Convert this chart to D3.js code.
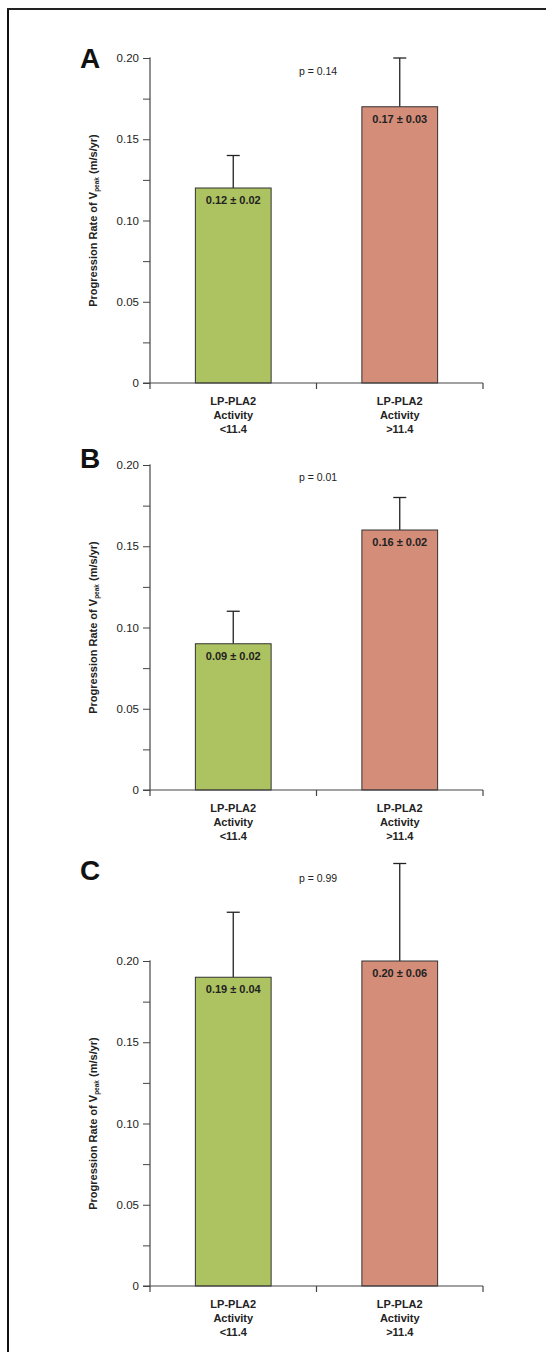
<!DOCTYPE html>
<html>
<head>
<meta charset="utf-8">
<script src="https://cdn.jsdelivr.net/npm/d3@7/dist/d3.min.js"></script>
<style>
  html, body { margin: 0; padding: 0; background: #fff; }
  svg { display: block; font-family: Arial, "Liberation Sans", Helvetica, sans-serif; }
</style>
</head>
<body>
<svg id="chart" width="546" height="1352"></svg>
<script>
// ---- Data ----
const panelLetters = ["A", "B", "C"];
const categories = [["LP-PLA2", "Activity", "<11.4"], ["LP-PLA2", "Activity", ">11.4"]];
const meanValues = [[0.12, 0.17], [0.09, 0.16], [0.19, 0.20]];
const errorValues = [[0.02, 0.03], [0.02, 0.02], [0.04, 0.06]];
const barLabels = [["0.12 ± 0.02", "0.17 ± 0.03"], ["0.09 ± 0.02", "0.16 ± 0.02"], ["0.19 ± 0.04", "0.20 ± 0.06"]];
const pValues = ["p = 0.14", "p = 0.01", "p = 0.99"];
const majorTicks = [0, 0.05, 0.10, 0.15, 0.20];
const allTicks = [0, 0.025, 0.05, 0.075, 0.10, 0.125, 0.15, 0.175, 0.20];

// ---- Layout ----
const zeroY = [383, 790, 1286];
const axisHeight = 325;
const letterY = [68, 468, 880];
const pY = [75, 481, 882];
const xLeft = 150, xRight = 483;
const barColors = ["#adc260", "#d38d78"];

const svg = d3.select("#chart");

// outer frame (left and top edges)
svg.append("line").attr("x1", 8).attr("x2", 8).attr("y1", 8).attr("y2", 1352)
  .attr("stroke", "#111").attr("stroke-width", 2);
svg.append("line").attr("x1", 7).attr("x2", 546).attr("y1", 9).attr("y2", 9)
  .attr("stroke", "#222").attr("stroke-width", 2);

const x = d3.scaleBand().domain([0, 1]).range([xLeft, xRight]).paddingInner(0.545).paddingOuter(0.2725);

panelLetters.forEach((letter, i) => {
  const y0 = zeroY[i];
  const y = d3.scaleLinear().domain([0, 0.20]).range([y0, y0 - axisHeight]);
  const g = svg.append("g");

  const data = meanValues[i].map((m, j) => ({ j, m, e: errorValues[i][j], label: barLabels[i][j] }));

  // error bars
  data.forEach(d => {
    const cx = x(d.j) + x.bandwidth() / 2;
    g.append("line").attr("x1", cx).attr("x2", cx)
      .attr("y1", y(d.m)).attr("y2", y(d.m + d.e))
      .attr("stroke", "#222").attr("stroke-width", 1.3);
    g.append("line").attr("x1", cx - 6.5).attr("x2", cx + 6.5)
      .attr("y1", y(d.m + d.e)).attr("y2", y(d.m + d.e))
      .attr("stroke", "#222").attr("stroke-width", 1.3);
  });

  g.selectAll("rect.bar").data(data).enter().append("rect")
    .attr("class", "bar")
    .attr("x", d => x(d.j))
    .attr("width", x.bandwidth())
    .attr("y", d => y(d.m))
    .attr("height", d => y(0) - y(d.m))
    .attr("fill", d => barColors[d.j])
    .attr("stroke", "#333").attr("stroke-width", 1);

  g.selectAll("text.val").data(data).enter().append("text")
    .attr("x", d => x(d.j) + x.bandwidth() / 2)
    .attr("y", d => y(d.m) + 16)
    .attr("text-anchor", "middle")
    .attr("font-size", 11).attr("font-weight", "bold").attr("fill", "#222")
    .text(d => d.label);

  // y axis
  const yAxis = d3.axisLeft(y).tickValues(allTicks).tickSize(7).tickPadding(4)
    .tickFormat(d => majorTicks.some(t => Math.abs(t - d) < 1e-9) ? (d === 0 ? "0" : d3.format(".2f")(d)) : "");
  const ya = g.append("g").attr("transform", `translate(${xLeft},0)`).call(yAxis);
  ya.select(".domain").attr("stroke", "#555").attr("stroke-width", 1.3).attr("d", `M-0.5,${y(0.20)}H0V${y(0)}`);
  ya.selectAll(".tick line").attr("stroke", "#444");
  ya.selectAll(".tick text").attr("font-size", 11.5).attr("fill", "#222").attr("font-family", "Arial, 'Liberation Sans', sans-serif");

  // x axis
  g.append("line").attr("x1", xLeft - 7).attr("x2", xRight).attr("y1", y0).attr("y2", y0)
    .attr("stroke", "#444").attr("stroke-width", 1.2);
  [xLeft, (xLeft + xRight) / 2, xRight].forEach(tx => {
    g.append("line").attr("x1", tx).attr("x2", tx).attr("y1", y0).attr("y2", y0 + 6)
      .attr("stroke", "#444").attr("stroke-width", 1.2);
  });

  categories.forEach((lines, j) => {
    const cx = x(j) + x.bandwidth() / 2;
    lines.forEach((ln, k) => {
      g.append("text").attr("x", cx).attr("y", y0 + 22 + k * 14)
        .attr("text-anchor", "middle").attr("font-size", 11).attr("font-weight", "bold")
        .attr("fill", "#222").text(ln);
    });
  });

  // y label
  const ly = (y(0) + y(0.20)) / 2;
  const lab = g.append("text")
    .attr("transform", `translate(97,${ly}) rotate(-90)`)
    .attr("text-anchor", "middle").attr("font-size", 11).attr("font-weight", "bold").attr("fill", "#222");
  lab.append("tspan").text("Progression Rate of V");
  lab.append("tspan").attr("font-size", 6.5).attr("dy", 2).text("peak");
  lab.append("tspan").attr("dy", -2).text(" (m/s/yr)");

  // panel letter
  g.append("text").attr("x", 80).attr("y", letterY[i])
    .attr("font-size", 28).attr("font-weight", "bold").attr("fill", "#111").text(letter);

  // p value
  g.append("text").attr("x", 318).attr("y", pY[i]).attr("text-anchor", "middle")
    .attr("font-size", 10.5).attr("fill", "#222").text(pValues[i]);
});
</script>
</body>
</html>
